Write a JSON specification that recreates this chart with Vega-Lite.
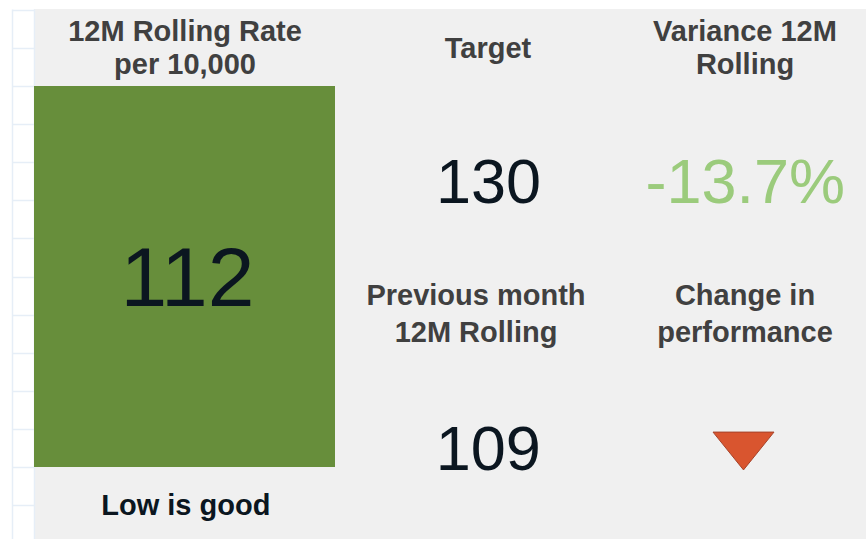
{
  "$schema": "https://vega.github.io/schema/vega-lite/v6.json",
  "width": 832,
  "height": 530,
  "padding": {"left": 34, "top": 9, "right": 0, "bottom": 0},
  "autosize": {"type": "none"},
  "background": "#ffffff",
  "config": {
    "view": {"fill": "#f0f0f0", "stroke": null},
    "text": {"font": "Liberation Sans"},
    "locale": {"number": {"decimal": ".", "thousands": ",", "grouping": [3], "currency": ["$", ""], "minus": "-"}}
  },
  "datasets": {
    "kpi": [
      {"metric": "rate", "header": "12M Rolling Rate\nper 10,000", "value": 112, "note": "Low is good"},
      {"metric": "target", "header": "Target", "value": 130},
      {"metric": "variance", "header": "Variance 12M\nRolling", "value": -0.137},
      {"metric": "previous", "header": "Previous month\n12M Rolling", "value": 109},
      {"metric": "change", "header": "Change in\nperformance", "direction": "down"}
    ]
  },
  "data": {"name": "kpi"},
  "resolve": {"scale": {"x": "independent", "y": "independent"}, "axis": {"y": "independent"}},
  "layer": [
    {
      "mark": {"type": "rule", "opacity": 0},
      "encoding": {
        "y": {"datum": 0, "type": "quantitative", "scale": {"domain": [0, 530], "range": [0, 530], "nice": false, "zero": false},
          "axis": {"orient": "left", "values": [1, 39.08, 77.16, 115.24, 153.32, 191.4, 229.48, 267.56, 305.64, 343.72, 381.8, 419.88, 457.96, 496.04], "labels": false, "title": null, "grid": false, "ticks": true, "tickSize": 22, "tickWidth": 1.5, "tickColor": "#e6eef7", "domain": true, "domainColor": "#e6eef7", "domainWidth": 1.5, "offset": 0}}
      }
    },
    {
      "mark": {"type": "rule", "opacity": 0},
      "encoding": {
        "y": {"datum": 0, "type": "quantitative", "scale": {"domain": [0, 530], "range": [0, 530], "nice": false, "zero": false},
          "axis": {"orient": "left", "labels": false, "title": null, "grid": false, "ticks": false, "domain": true, "domainColor": "#e6eef7", "domainWidth": 1.5, "offset": 22}}
      }
    },
    {
      "transform": [{"filter": "datum.metric === 'rate'"}],
      "mark": {"type": "rect", "fill": "#678e3b"},
      "encoding": {
        "x": {"field": "metric", "type": "nominal", "scale": {"type": "band", "range": [0, 301], "paddingInner": 0, "paddingOuter": 0}, "axis": null},
        "y": {"field": "metric", "type": "nominal", "scale": {"type": "band", "range": [77, 458], "paddingInner": 0, "paddingOuter": 0}, "axis": null}
      }
    },
    {
      "transform": [{"filter": "datum.metric === 'rate'"}],
      "mark": {"type": "text", "fontSize": 29, "fontWeight": "bold", "fill": "#404040", "align": "center", "baseline": "alphabetic", "lineBreak": "\n", "lineHeight": 33.6},
      "encoding": {
        "x": {"field": "metric", "type": "nominal", "scale": {"type": "point", "range": [151, 151]}, "axis": null},
        "y": {"field": "metric", "type": "nominal", "scale": {"type": "point", "range": [31.7, 31.7]}, "axis": null},
        "text": {"field": "header"}
      }
    },
    {
      "transform": [{"filter": "datum.metric === 'target'"}],
      "mark": {"type": "text", "fontSize": 29, "fontWeight": "bold", "fill": "#404040", "align": "center", "baseline": "alphabetic", "lineBreak": "\n", "lineHeight": 33.6},
      "encoding": {
        "x": {"field": "metric", "type": "nominal", "scale": {"type": "point", "range": [454, 454]}, "axis": null},
        "y": {"field": "metric", "type": "nominal", "scale": {"type": "point", "range": [49, 49]}, "axis": null},
        "text": {"field": "header"}
      }
    },
    {
      "transform": [{"filter": "datum.metric === 'variance'"}],
      "mark": {"type": "text", "fontSize": 29, "fontWeight": "bold", "fill": "#404040", "align": "center", "baseline": "alphabetic", "lineBreak": "\n", "lineHeight": 33.5},
      "encoding": {
        "x": {"field": "metric", "type": "nominal", "scale": {"type": "point", "range": [711, 711]}, "axis": null},
        "y": {"field": "metric", "type": "nominal", "scale": {"type": "point", "range": [31.5, 31.5]}, "axis": null},
        "text": {"field": "header"}
      }
    },
    {
      "transform": [{"filter": "datum.metric === 'previous'"}],
      "mark": {"type": "text", "fontSize": 29, "fontWeight": "bold", "fill": "#404040", "align": "center", "baseline": "alphabetic", "lineBreak": "\n", "lineHeight": 36.5},
      "encoding": {
        "x": {"field": "metric", "type": "nominal", "scale": {"type": "point", "range": [442, 442]}, "axis": null},
        "y": {"field": "metric", "type": "nominal", "scale": {"type": "point", "range": [296, 296]}, "axis": null},
        "text": {"field": "header"}
      }
    },
    {
      "transform": [{"filter": "datum.metric === 'change'"}],
      "mark": {"type": "text", "fontSize": 29, "fontWeight": "bold", "fill": "#404040", "align": "center", "baseline": "alphabetic", "lineBreak": "\n", "lineHeight": 36.5},
      "encoding": {
        "x": {"field": "metric", "type": "nominal", "scale": {"type": "point", "range": [711, 711]}, "axis": null},
        "y": {"field": "metric", "type": "nominal", "scale": {"type": "point", "range": [296, 296]}, "axis": null},
        "text": {"field": "header"}
      }
    },
    {
      "transform": [{"filter": "datum.metric === 'rate'"}],
      "mark": {"type": "text", "fontSize": 84, "fill": "#0b1620", "align": "center", "baseline": "alphabetic"},
      "encoding": {
        "x": {"field": "metric", "type": "nominal", "scale": {"type": "point", "range": [153.5, 153.5]}, "axis": null},
        "y": {"field": "metric", "type": "nominal", "scale": {"type": "point", "range": [297, 297]}, "axis": null},
        "text": {"field": "value", "type": "quantitative", "format": "d"}
      }
    },
    {
      "transform": [{"filter": "datum.metric === 'target'"}],
      "mark": {"type": "text", "fontSize": 63, "fill": "#0b1620", "align": "center", "baseline": "alphabetic"},
      "encoding": {
        "x": {"field": "metric", "type": "nominal", "scale": {"type": "point", "range": [454.5, 454.5]}, "axis": null},
        "y": {"field": "metric", "type": "nominal", "scale": {"type": "point", "range": [194.3, 194.3]}, "axis": null},
        "text": {"field": "value", "type": "quantitative", "format": "d"}
      }
    },
    {
      "transform": [{"filter": "datum.metric === 'variance'"}],
      "mark": {"type": "text", "fontSize": 63, "fill": "#9bcb7c", "align": "center", "baseline": "alphabetic"},
      "encoding": {
        "x": {"field": "metric", "type": "nominal", "scale": {"type": "point", "range": [711.3, 711.3]}, "axis": null},
        "y": {"field": "metric", "type": "nominal", "scale": {"type": "point", "range": [194.3, 194.3]}, "axis": null},
        "text": {"field": "value", "type": "quantitative", "format": ".1%"}
      }
    },
    {
      "transform": [{"filter": "datum.metric === 'previous'"}],
      "mark": {"type": "text", "fontSize": 63, "fill": "#0b1620", "align": "center", "baseline": "alphabetic"},
      "encoding": {
        "x": {"field": "metric", "type": "nominal", "scale": {"type": "point", "range": [454.3, 454.3]}, "axis": null},
        "y": {"field": "metric", "type": "nominal", "scale": {"type": "point", "range": [461, 461]}, "axis": null},
        "text": {"field": "value", "type": "quantitative", "format": "d"}
      }
    },
    {
      "transform": [{"filter": "datum.metric === 'change'"}],
      "mark": {"type": "point", "filled": true, "shape": "M-1,-0.62L1,-0.62L0,0.62Z", "size": 3721, "fill": "#d9552f", "stroke": "#a5432a", "strokeWidth": 1, "opacity": 1},
      "encoding": {
        "x": {"field": "metric", "type": "nominal", "scale": {"type": "point", "range": [709.5, 709.5]}, "axis": null},
        "y": {"field": "metric", "type": "nominal", "scale": {"type": "point", "range": [442, 442]}, "axis": null}
      }
    },
    {
      "transform": [{"filter": "datum.metric === 'rate'"}],
      "mark": {"type": "text", "fontSize": 29, "fontWeight": "bold", "fill": "#0b1620", "align": "center", "baseline": "alphabetic"},
      "encoding": {
        "x": {"field": "metric", "type": "nominal", "scale": {"type": "point", "range": [151.8, 151.8]}, "axis": null},
        "y": {"field": "metric", "type": "nominal", "scale": {"type": "point", "range": [506, 506]}, "axis": null},
        "text": {"field": "note"}
      }
    }
  ]
}
